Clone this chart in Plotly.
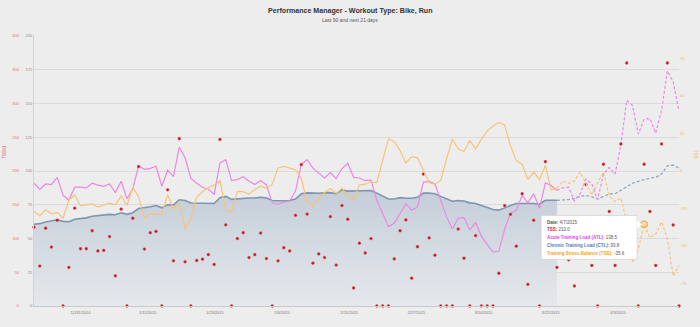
import plotly.graph_objects as go
import pandas as pd

# ---------------- data ----------------
dates = pd.date_range("2014-12-23", "2015-04-13", freq="D")   # last 90 + next 21 days
today_index = 90            # last actual day (solid -> dashed)
hover_index = 105           # 4/7/2015 (tooltip)

tss = [116.8, 59.2, 115.3, 87.3, 127.0, 0, 57.2, 145.0, 84.8, 84.8,
       111.5, 81.5, 82.4, 102.8, 44.6, 143.5, 0, 130.0, 206.5, 84.4,
       108.6, 110.5, 0, 172.1, 66.9, 247.8, 65.5, 0, 67.4, 69.3,
       76.1, 61.6, 246.8, 120.2, 0, 99.9, 108.6, 71.8, 76.1, 108.1,
       70.3, 0, 66.9, 86.3, 81.5, 134.3, 209.5, 136.2, 63.5, 77.1,
       71.8, 132.4, 60.6, 148.8, 128.5, 26.7, 93.1, 78.5, 99.9, 0,
       0, 0, 69.8, 111.5, 127.5, 41.2, 87.8, 195.4, 100.9, 75.2,
       0, 0, 0, 114.0, 70.8, 0, 104.2, 0, 0, 0,
       48.5, 148.8, 135.8, 88.7, 166.3, 32.0, 127.0, 0, 213.8, 100.0,
       57.2, 90.0, 68.4, 29.6, 110.0, 180.0, 60.0, 0, 210.0, 140.0,
       60.0, 240.0, 360.0, 120.0, 0, 210.0, 140.0, 60.0, 240.0, 360.0,
       120.0, 0]

atl = [90.9, 86.3, 90.4, 90.0, 95.3, 82.0, 78.3, 88.0, 88.0, 87.5,
       90.9, 89.5, 88.7, 90.4, 84.1, 92.4, 79.5, 86.8, 103.8, 101.3,
       102.0, 103.5, 88.7, 100.6, 95.8, 117.6, 109.8, 94.5, 90.9, 88.0,
       86.5, 82.7, 106.0, 108.4, 92.9, 93.6, 95.8, 92.4, 90.0, 92.9,
       89.7, 76.4, 75.4, 76.9, 77.8, 85.1, 105.0, 108.4, 102.1, 98.5,
       94.8, 98.9, 94.5, 101.8, 105.7, 95.3, 94.8, 92.8, 93.3, 78.3,
       68.5, 58.8, 61.3, 68.5, 75.8, 70.9, 73.4, 91.6, 92.3, 90.4,
       78.3, 66.2, 57.0, 65.0, 65.5, 56.5, 61.8, 51.6, 45.5, 40.0,
       40.7, 57.0, 68.5, 71.0, 81.9, 76.4, 83.2, 72.3, 91.2, 89.2,
       85.6, 87.5, 88.0, 77.8, 83.2, 94.1, 90.4, 78.8, 97.7, 102.6,
       97.7, 119.5, 152.2, 148.6, 127.3, 138.5, 138.9, 128.0, 145.0, 174.1,
       166.1, 144.2]

ctl = [60.6, 61.0, 62.2, 63.2, 63.9, 62.7, 62.4, 64.3, 64.8, 65.3,
       66.5, 67.0, 67.2, 67.9, 67.6, 69.1, 67.9, 69.1, 72.2, 72.7,
       73.5, 74.4, 72.7, 74.9, 74.9, 78.7, 78.2, 76.3, 76.3, 76.3,
       76.3, 75.9, 80.2, 81.2, 79.0, 79.3, 80.0, 80.0, 80.0, 80.5,
       80.0, 78.2, 78.0, 78.2, 78.2, 79.2, 83.1, 83.8, 83.5, 83.5,
       83.8, 84.0, 83.2, 86.0, 85.1, 85.1, 85.1, 85.1, 85.6, 83.6,
       81.2, 79.3, 79.3, 80.3, 79.8, 79.8, 80.5, 83.6, 83.6, 83.2,
       81.2, 79.3, 77.6, 78.1, 77.8, 76.4, 75.9, 74.4, 73.0, 71.5,
       71.0, 73.0, 74.4, 75.9, 75.9, 76.4, 75.9, 75.4, 78.3, 78.3,
       78.3, 78.3, 78.8, 79.8, 81.2, 81.8, 80.9, 79.3, 81.2, 83.0,
       83.2, 85.6, 88.5, 90.9, 92.3, 93.8, 94.8, 95.3, 97.8, 103.8,
       104.3, 102.1]

tsb = [-27.0, -29.8, -25.9, -28.5, -27.6, -31.4, -19.3, -16.0, -23.3, -22.6,
       -21.9, -24.1, -22.6, -21.5, -22.6, -16.7, -22.8, -11.0, -17.1, -31.4,
       -28.5, -28.5, -29.0, -15.8, -25.4, -21.1, -38.6, -31.4, -17.5, -13.8,
       -11.0, -9.4, -6.6, -26.3, -27.0, -13.6, -13.8, -15.4, -12.3, -10.1,
       -11.6, -8.8, 2.0, 3.1, 2.0, 0.9, -5.0, -20.4, -23.7, -18.2,
       -14.5, -11.6, -14.9, -11.6, -16.7, -19.3, -9.4, -8.8, -7.2, -7.7,
       7.0, 21.3, 19.7, 13.6, 5.3, 9.6, 8.8, 0.9, -7.9, -8.8,
       -6.1, 8.1, 21.3, 14.7, 13.2, 20.2, 14.7, 21.3, 26.8, 30.0,
       32.3, 30.7, 16.9, 7.0, 4.4, -5.7, -0.7, -5.7, 3.7, -12.7,
       -11.6, -6.6, -8.3, -6.6, -0.7, -8.3, -16.0, -7.9, -0.7, -16.7,
       -20.4, -18.0, -34.0, -61.0, -52.0, -35.6, -44.5, -42.0, -34.0, -45.0,
       -70.0, -63.0]

tick_labels = ["12/31/2014", "1/11/2015", "1/23/2015", "2/4/2015", "2/15/2015",
               "2/27/2015", "3/10/2015", "3/22/2015", "4/3/2015"]
tick_day_offsets = [8, 19.56, 31.12, 42.68, 54.24, 65.8, 77.36, 88.92, 100.48]

# ---------------- styles ----------------
FONT = "Liberation Sans, Arial, Helvetica, sans-serif"
BG = "#ededed"
C_ATL = "#ec88e3"
C_CTL = "#7d95ae"
C_CTL_DASH = "#8fa4bb"
C_TSB = "#f7c377"
C_TSS = "#c0121b"

tick_vals = [dates[0] + pd.Timedelta(days=o) for o in tick_day_offsets]
past = slice(0, today_index + 1)
future = slice(today_index, len(dates))

fig = go.Figure()

# CTL area (past)
fig.add_trace(go.Scatter(
    x=dates[past], y=ctl[past], mode="lines", yaxis="y",
    line=dict(color=C_CTL, width=1.6), fill="tozeroy",
    fillgradient=dict(type="vertical",
                      colorscale=[[0, "rgb(229,232,236)"], [1, "rgb(196,206,217)"]]),
    hoverinfo="skip"))
# ATL past
fig.add_trace(go.Scatter(x=dates[past], y=atl[past], mode="lines", yaxis="y",
                         line=dict(color=C_ATL, width=1.2), hoverinfo="skip"))
# future dashed
fig.add_trace(go.Scatter(x=dates[future], y=ctl[future], mode="lines", yaxis="y",
                         line=dict(color=C_CTL_DASH, width=1.2, dash="3px,2px"),
                         hoverinfo="skip"))
fig.add_trace(go.Scatter(x=dates[future], y=atl[future], mode="lines", yaxis="y",
                         line=dict(color=C_ATL, width=1.2, dash="3px,2px"),
                         hoverinfo="skip"))
# TSS dots
fig.add_trace(go.Scatter(x=dates, y=tss, mode="markers", yaxis="y2", cliponaxis=False,
                         marker=dict(color=C_TSS, size=2.8, symbol="circle",
                                     line=dict(color="#e05a5a", width=0.5)),
                         hoverinfo="skip"))
# TSB
fig.add_trace(go.Scatter(x=dates[past], y=tsb[past], mode="lines", yaxis="y3",
                         line=dict(color=C_TSB, width=1.2), hoverinfo="skip"))
fig.add_trace(go.Scatter(x=dates[future], y=tsb[future], mode="lines", yaxis="y3",
                         line=dict(color=C_TSB, width=1.2, dash="3px,2px"),
                         hoverinfo="skip"))
# hover marker
fig.add_trace(go.Scatter(x=[dates[hover_index]], y=[tsb[hover_index]], mode="markers",
                         yaxis="y3", cliponaxis=False,
                         marker=dict(size=6.5, color="rgba(247,195,119,0.3)",
                                     line=dict(color="#f0b448", width=1.4)),
                         hoverinfo="skip"))

# ---------------- tooltip ----------------
hx = dates[hover_index]
hy = tsb[hover_index]
fig.add_shape(type="rect", xref="x", yref="y3", xsizemode="pixel", ysizemode="pixel",
              xanchor=hx, yanchor=hy, x0=-103, x1=-7, y0=-35, y1=9,
              fillcolor="white", line=dict(color="#d0d0d0", width=0.7), layer="above")
fig.add_shape(type="path", xref="x", yref="y3", xsizemode="pixel", ysizemode="pixel",
              xanchor=hx, yanchor=hy, path="M -7.4 4 L -2 0 L -7.4 -4 Z",
              fillcolor="white", line=dict(color="white", width=0), layer="above")

tip_lines = [
    ("<b>Date:</b> " + f"{hx.month}/{hx.day}/{hx.year}", "#555555"),
    ("<b>TSS:</b> <span style='color:#555555'>" + f"{tss[hover_index]:.1f}</span>", "#d0202a"),
    ("<b>Acute Training Load (ATL):</b> <span style='color:#555555'>"
     + f"{atl[hover_index]:.1f}</span>", "#e23ee0"),
    ("<b>Chronic Training Load (CTL):</b> <span style='color:#555555'>"
     + f"{ctl[hover_index]:.1f}</span>", "#4f7cae"),
    ("<b>Training Stress Balance (TSB):</b> <span style='color:#555555'>"
     + f"{tsb[hover_index]:.1f}</span>", "#f3a521"),
]
tip_shifts = [2.3, -5.3, -13.0, -21.0, -28.7]
for (txt, col), ys in zip(tip_lines, tip_shifts):
    fig.add_annotation(x=hx, y=hy, xref="x", yref="y3", text=txt, showarrow=False,
                       xanchor="left", yanchor="middle", xshift=-99, yshift=ys,
                       font=dict(family=FONT, size=4.5, color=col))

# ---------------- titles ----------------
fig.add_annotation(text="<b>Performance Manager - Workout Type: Bike, Run</b>",
                   xref="paper", yref="paper", x=(350 - 34) / 645, y=(311 - 11) / 275,
                   showarrow=False, xanchor="center", yanchor="middle",
                   font=dict(family=FONT, size=7.1, color="#333333"))
fig.add_annotation(text="Last 90 and next 21 days",
                   xref="paper", yref="paper", x=(350 - 34) / 645, y=(311 - 20) / 275,
                   showarrow=False, xanchor="center", yanchor="middle",
                   font=dict(family=FONT, size=5, color="#555555"))
fig.add_annotation(text="TSS/d", xref="paper", yref="paper",
                   x=(5 - 34) / 645, y=(311 - 155) / 275, textangle=-90,
                   showarrow=False, xanchor="center", yanchor="middle",
                   font=dict(family=FONT, size=4.5, color="#d9534f"))
fig.add_annotation(text="TSB", xref="paper", yref="paper",
                   x=(695 - 34) / 645, y=(311 - 156) / 275, textangle=90,
                   showarrow=False, xanchor="center", yanchor="middle",
                   font=dict(family=FONT, size=4.5, color="#f5b14c"))

fig.update_layout(
    width=700, height=327,
    margin=dict(l=34, r=21, t=36, b=16),
    paper_bgcolor=BG, plot_bgcolor=BG,
    showlegend=False,
    font=dict(family=FONT),
    xaxis=dict(type="date", range=[dates[0], dates[-1]], tickvals=tick_vals,
               ticktext=tick_labels, tickfont=dict(size=4, color="#777777"),
               showgrid=False, showline=True, linecolor="#c9c9c9", linewidth=1,
               ticks="", zeroline=False, ticklabelstandoff=2),
    yaxis=dict(range=[0, 200], tickvals=list(range(0, 201, 25)),
               gridcolor="#dbdbdb", gridwidth=1,
               tickfont=dict(size=4, color="#8a8a8a"), showline=True,
               linecolor="#d2d2d2", linewidth=1, zeroline=False, ticks=""),
    yaxis2=dict(overlaying="y", side="left", anchor="x", range=[0, 400],
                tickvals=list(range(0, 401, 50)), showgrid=False, zeroline=False,
                tickfont=dict(size=4, color="#e07070"), ticklabelstandoff=14,
                ticks=""),
    yaxis3=dict(overlaying="y", side="right", anchor="x", range=[-90, 90],
                tickvals=[-75, -50, -25, 0, 25, 50, 75], showgrid=False,
                zeroline=False, tickfont=dict(size=4, color="#f5b14c"), ticks=""),
)

fig.write_html("out.html")
